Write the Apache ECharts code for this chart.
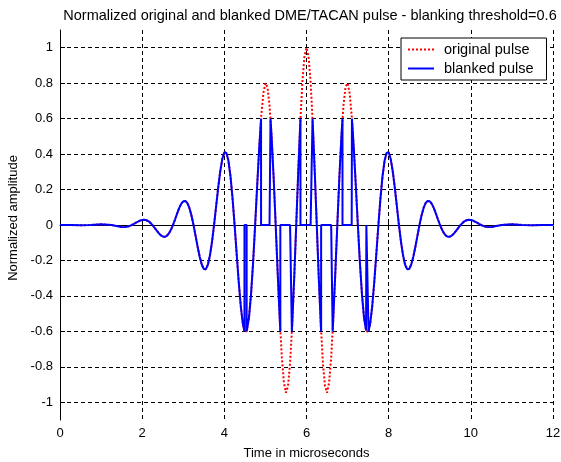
<!DOCTYPE html>
<html>
<head>
<meta charset="utf-8">
<script src="https://cdn.jsdelivr.net/npm/echarts@6/dist/echarts.min.js"></script>
<style>
html,body{margin:0;padding:0;background:#fff;}
#chart{width:561px;height:462px;}
</style>
</head>
<body>
<div id="chart"></div>
<script>
// sample times (microseconds)
const time = [
  0, 0.25, 0.5, 0.75, 1, 1.25,
  1.5, 1.55, 1.6, 1.65, 1.7, 1.75, 1.8, 1.85, 1.9, 1.95,
  2, 2.05, 2.1, 2.15, 2.2, 2.25, 2.3, 2.35, 2.4, 2.45,
  2.5, 2.55, 2.6, 2.65, 2.7, 2.75, 2.8, 2.85, 2.9, 2.95,
  3, 3.05, 3.1, 3.15, 3.2, 3.25, 3.3, 3.35, 3.4, 3.45,
  3.5, 3.55, 3.6, 3.65, 3.7, 3.75, 3.8, 3.85, 3.9, 3.95,
  4, 4.05, 4.1, 4.15, 4.2, 4.25, 4.3, 4.35, 4.4, 4.45,
  4.5, 4.55, 4.6, 4.65, 4.7, 4.75, 4.8, 4.85, 4.9, 4.95,
  5, 5.05, 5.1, 5.15, 5.2, 5.25, 5.3, 5.35, 5.4, 5.45,
  5.5, 5.55, 5.6, 5.65, 5.7, 5.75, 5.8, 5.85, 5.9, 5.95,
  6,
  6.05, 6.1, 6.15, 6.2, 6.25, 6.3, 6.35, 6.4, 6.45, 6.5,
  6.55, 6.6, 6.65, 6.7, 6.75, 6.8, 6.85, 6.9, 6.95, 7,
  7.05, 7.1, 7.15, 7.2, 7.25, 7.3, 7.35, 7.4, 7.45, 7.5,
  7.55, 7.6, 7.65, 7.7, 7.75, 7.8, 7.85, 7.9, 7.95, 8,
  8.05, 8.1, 8.15, 8.2, 8.25, 8.3, 8.35, 8.4, 8.45, 8.5,
  8.55, 8.6, 8.65, 8.7, 8.75, 8.8, 8.85, 8.9, 8.95, 9,
  9.05, 9.1, 9.15, 9.2, 9.25, 9.3, 9.35, 9.4, 9.45, 9.5,
  9.55, 9.6, 9.65, 9.7, 9.75, 9.8, 9.85, 9.9, 9.95, 10,
  10.05, 10.1, 10.15, 10.2, 10.25, 10.3, 10.35, 10.4, 10.45, 10.5,
  10.75, 11, 11.25, 11.5, 11.75, 12
];

// original pulse (red dotted)
const original = [
  0.0003, 0, -0.0012, 0, 0.0038, 0,
  -0.011, -0.012, -0.011, -0.009, -0.005, 0, 0.006, 0.013, 0.019, 0.025,
  0.028, 0.029, 0.027, 0.022, 0.012, 0, -0.015, -0.030, -0.045, -0.057,
  -0.065, -0.067, -0.061, -0.048, -0.027, 0, 0.031, 0.064, 0.095, 0.119,
  0.134, 0.136, 0.124, 0.096, 0.054, 0, -0.061, -0.123, -0.179, -0.223,
  -0.248, -0.249, -0.224, -0.171, -0.095, 0, 0.105, 0.210, 0.302, 0.372,
  0.410, 0.407, 0.362, 0.274, 0.150, 0, -0.162, -0.320, -0.457, -0.556,
  -0.605, -0.595, -0.522, -0.391, -0.212, 0, 0.224, 0.438, 0.618, 0.744,
  0.800, 0.778, 0.675, 0.500, 0.268, 0, -0.277, -0.535, -0.747, -0.889,
  -0.946, -0.909, -0.781, -0.572, -0.303, 0, 0.306, 0.585, 0.807, 0.951,
  1.000,
  0.951, 0.807, 0.585, 0.306, 0, -0.303, -0.572, -0.781, -0.909, -0.946,
  -0.889, -0.747, -0.535, -0.277, 0, 0.268, 0.500, 0.675, 0.778, 0.800,
  0.744, 0.618, 0.438, 0.224, 0, -0.212, -0.391, -0.522, -0.595, -0.605,
  -0.556, -0.457, -0.320, -0.162, 0, 0.150, 0.274, 0.362, 0.407, 0.410,
  0.372, 0.302, 0.210, 0.105, 0, -0.095, -0.171, -0.224, -0.249, -0.248,
  -0.223, -0.179, -0.123, -0.061, 0, 0.054, 0.096, 0.124, 0.136, 0.134,
  0.119, 0.095, 0.064, 0.031, 0, -0.027, -0.048, -0.061, -0.067, -0.065,
  -0.057, -0.045, -0.030, -0.015, 0, 0.012, 0.022, 0.027, 0.029, 0.028,
  0.025, 0.019, 0.013, 0.006, 0, -0.005, -0.009, -0.011, -0.012, -0.011,
  0, 0.0038, 0, -0.0012, 0, 0.0003
];

// blanked pulse (blue solid) on the same sample times
const blanked = [
  0.0003, 0, -0.0012, 0, 0.0038, 0,
  -0.011, -0.012, -0.011, -0.009, -0.005, 0, 0.006, 0.013, 0.019, 0.025,
  0.028, 0.029, 0.027, 0.022, 0.012, 0, -0.015, -0.030, -0.045, -0.057,
  -0.065, -0.067, -0.061, -0.048, -0.027, 0, 0.031, 0.064, 0.095, 0.119,
  0.134, 0.136, 0.124, 0.096, 0.054, 0, -0.061, -0.123, -0.179, -0.223,
  -0.248, -0.249, -0.224, -0.171, -0.095, 0, 0.105, 0.210, 0.302, 0.372,
  0.410, 0.407, 0.362, 0.274, 0.150, 0, -0.162, -0.320, -0.457, -0.556,
  0, -0.595, -0.522, -0.391, -0.212, 0, 0.224, 0.438, 0, 0,
  0, 0, 0, 0.500, 0.268, 0, -0.277, -0.535, 0, 0,
  0, 0, 0, -0.572, -0.303, 0, 0.306, 0.585, 0, 0,
  0,
  0, 0, 0.585, 0.306, 0, -0.303, -0.572, 0, 0, 0,
  0, 0, -0.535, -0.277, 0, 0.268, 0.500, 0, 0, 0,
  0, 0, 0.438, 0.224, 0, -0.212, -0.391, -0.522, -0.595, 0,
  -0.556, -0.457, -0.320, -0.162, 0, 0.150, 0.274, 0.362, 0.407, 0.410,
  0.372, 0.302, 0.210, 0.105, 0, -0.095, -0.171, -0.224, -0.249, -0.248,
  -0.223, -0.179, -0.123, -0.061, 0, 0.054, 0.096, 0.124, 0.136, 0.134,
  0.119, 0.095, 0.064, 0.031, 0, -0.027, -0.048, -0.061, -0.067, -0.065,
  -0.057, -0.045, -0.030, -0.015, 0, 0.012, 0.022, 0.027, 0.029, 0.028,
  0.025, 0.019, 0.013, 0.006, 0, -0.005, -0.009, -0.011, -0.012, -0.011,
  0, 0.0038, 0, -0.0012, 0, 0.0003
];

// blanking edges: time, value before the jump, value after the jump
const edgeTime = [4.49, 4.543, 4.894, 5.124, 5.363, 5.644, 5.853, 6.147, 6.356, 6.637, 6.876, 7.106, 7.457, 7.51];
const edgeFrom = [-0.6, 0, 0.6, 0, -0.6, 0, 0.6, 0, -0.6, 0, 0.6, 0, -0.6, 0];
const edgeTo   = [0, -0.6, 0, 0.6, 0, -0.6, 0, 0.6, 0, -0.6, 0, 0.6, 0, -0.6];

const yTicks = [-1, -0.8, -0.6, -0.4, -0.2, 0, 0.2, 0.4, 0.6, 0.8, 1];
const seriesNames = ['original pulse', 'blanked pulse'];
const titleText = 'Normalized original and blanked DME/TACAN pulse - blanking threshold=0.6';

const origData = time.map((t, i) => [t, original[i]]);
const blankData = time.map((t, i) => [t, blanked[i]]);
edgeTime.forEach((t, i) => { blankData.push([t, edgeFrom[i]], [t, edgeTo[i]]); });
blankData.sort((a, b) => a[0] - b[0]);

const FONT = '"Liberation Sans", Arial, Helvetica, sans-serif';
const gridLine = { show: true, lineStyle: { color: '#000', width: 1, type: [4, 3] } };

const chart = echarts.init(document.getElementById('chart'), null, { renderer: 'canvas' });
chart.setOption({
  animation: false,
  backgroundColor: '#fff',
  textStyle: { fontFamily: FONT },
  title: {
    text: titleText,
    left: 305, top: 3, textAlign: 'center',
    textStyle: { fontSize: 14.5, fontWeight: 'normal', color: '#000', fontFamily: FONT }
  },
  legend: {
    data: seriesNames,
    orient: 'vertical',
    left: 401, top: 38,
    itemWidth: 26, itemHeight: 14, itemGap: 4,
    padding: [4, 13, 4, 6],
    borderColor: '#000', borderWidth: 1, backgroundColor: '#fff',
    itemStyle: { opacity: 0, borderWidth: 0 },
    textStyle: { fontSize: 14.5, color: '#000', fontFamily: FONT, padding: [0, 0, 0, 5] }
  },
  grid: { left: 60, right: 8, top: 30, bottom: 42, containLabel: false, outerBoundsMode: 'none' },
  xAxis: {
    type: 'value', min: 0, max: 12, interval: 2,
    name: 'Time in microseconds', nameLocation: 'middle', nameGap: 27,
    nameTextStyle: { fontSize: 13, color: '#000', fontFamily: FONT },
    axisLine: { show: true, lineStyle: { color: '#000', width: 1 } },
    axisTick: { show: true, inside: true, length: 5, lineStyle: { color: '#000' } },
    axisLabel: { fontSize: 13, color: '#000', margin: 7, fontFamily: FONT },
    splitLine: gridLine
  },
  yAxis: {
    type: 'value', min: -1.1, max: 1.1,
    name: 'Normalized amplitude', nameLocation: 'middle', nameGap: 38,
    nameTextStyle: { fontSize: 13, color: '#000', fontFamily: FONT, padding: [0, 0, 0, 14] },
    axisLine: { show: true, lineStyle: { color: '#000', width: 1 } },
    axisTick: { show: true, inside: true, length: 5, customValues: yTicks, lineStyle: { color: '#000' } },
    axisLabel: { fontSize: 13, color: '#000', margin: 7, customValues: yTicks, fontFamily: FONT },
    splitLine: gridLine
  },
  series: [
    {
      name: seriesNames[0], type: 'line', data: origData, symbol: 'none',
      itemStyle: { color: '#ff0000' },
      lineStyle: { color: '#ff0000', width: 2, type: [2, 2] },
      z: 2
    },
    {
      name: seriesNames[1], type: 'line', data: blankData, symbol: 'none',
      itemStyle: { color: '#0000ff' },
      lineStyle: { color: '#0000ff', width: 2 },
      z: 3
    }
  ]
});
</script>
</body>
</html>
